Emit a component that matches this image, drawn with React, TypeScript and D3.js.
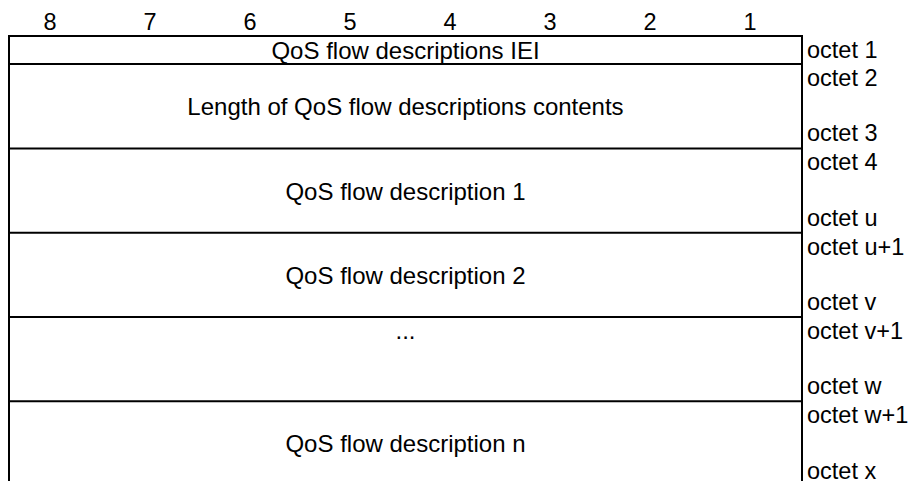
import React from "react";
import * as d3 from "d3";

// bit numbers across the top
const bits = [8, 7, 6, 5, 4, 3, 2, 1];

// field rows of the IE, with size in octet units (used for row height)
const fieldLabels = [
  "QoS flow descriptions IEI",
  "Length of QoS flow descriptions contents",
  "QoS flow description 1",
  "QoS flow description 2",
  "...",
  "QoS flow description n",
];
const fieldUnits = [1, 3, 3, 3, 3, 3];
const firstOctets = ["octet 1", "octet 2", "octet 4", "octet u+1", "octet v+1", "octet w+1"];
const lastOctets = ["", "octet 3", "octet u", "octet v", "octet w", "octet x"];

const width = 909;
const height = 481;
const left = 9;
const right = 802;
const top = 36;
const unitPx = 28.1;

const App = () => {
  const totalUnits = d3.sum(fieldUnits);
  const y = d3.scaleLinear().domain([0, totalUnits]).range([top, top + totalUnits * unitPx]);
  const x = d3.scaleLinear().domain([8, 1]).range([50, 750]);

  // cumulative start of each row
  const starts = fieldUnits.map((_, i) => d3.sum(fieldUnits.slice(0, i)));
  const rows = fieldLabels.map((label, i) => ({
    label,
    y0: y(starts[i]),
    y1: y(starts[i] + fieldUnits[i]),
    first: firstOctets[i],
    last: lastOctets[i],
  }));
  const bottom = y(totalUnits);

  return (
    <svg
      width={width}
      height={height}
      style={{ position: "absolute", left: 0, top: 0, background: "#fff" }}
      fontFamily="'Liberation Sans', Arial, sans-serif"
      fontSize={23.5}
    >
      {bits.map((b) => (
        <text key={b} x={x(b)} y={30} textAnchor="middle" fill="#000">
          {b}
        </text>
      ))}

      {/* outer verticals */}
      <line x1={left} x2={left} y1={top - 1} y2={bottom} stroke="#000" strokeWidth={2} />
      <line x1={right} x2={right} y1={top - 1} y2={bottom} stroke="#000" strokeWidth={2} />

      {rows.map((r, i) => (
        <g key={i}>
          <line x1={left} x2={right} y1={r.y0} y2={r.y0} stroke="#000" strokeWidth={2} />
          <text
            x={(left + right) / 2}
            // the "..." row has its text on the first line of the box
            y={r.label === "..." ? r.y0 + 22 : (r.y0 + r.y1) / 2 + 9}
            textAnchor="middle"
            fontSize={24}
            fill="#000"
          >
            {r.label}
          </text>
          <text x={807} y={r.y0 + 22} fill="#000">
            {r.first}
          </text>
          {r.last && (
            <text x={807} y={r.y1 - 7} fill="#000">
              {r.last}
            </text>
          )}
        </g>
      ))}
      <line x1={left} x2={right} y1={bottom} y2={bottom} stroke="#000" strokeWidth={2} />
    </svg>
  );
};

export default App;
